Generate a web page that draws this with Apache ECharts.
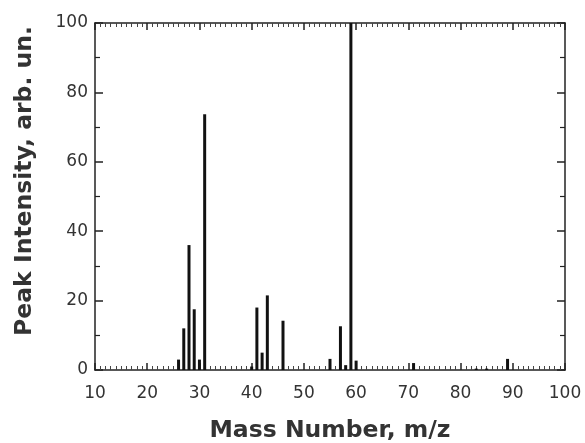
<!DOCTYPE html>
<html>
<head>
<meta charset="utf-8">
<script src="https://cdn.jsdelivr.net/npm/echarts@6/dist/echarts.min.js"></script>
<style>html,body{margin:0;padding:0;background:#fff}#c{width:585px;height:443px}</style>
</head>
<body>
<div id="c"></div>
<script>
const masses = [26, 27, 28, 29, 30, 31, 40, 41, 42, 43, 46, 55, 57, 58, 59, 60, 71, 83, 85, 89];
const intensities = [3, 12, 36, 17.5, 3, 73.7, 1, 18, 5, 21.5, 14.2, 3.2, 12.6, 1.4, 100, 2.7, 2, 0.4, 0.4, 3.2];
const xTitle = 'Mass Number, m/z';
const yTitle = 'Peak Intensity, arb. un.';

const chart = echarts.init(document.getElementById('c'), null, {renderer: 'canvas'});
const axisLineStyle = {color: '#222', width: 1.5};
const labelFont = {fontFamily: 'DejaVu Sans, sans-serif', fontSize: 17, color: '#333'};
const titleFont = {fontFamily: 'DejaVu Sans, sans-serif', fontSize: 23.5, fontWeight: 'bold', color: '#333'};
const majorTick = {show: true, inside: true, length: 8, lineStyle: {color: '#222', width: 1.5}};
const yMinorTick = {show: true, splitNumber: 2, length: 5, lineStyle: {color: '#222', width: 1.2}};
const xMajorTick = {show: true, inside: true, length: 7, lineStyle: {color: '#222', width: 1.5}};
const xMinorTick = {show: true, splitNumber: 10, length: 4, lineStyle: {color: '#444', width: 1}};

const option = {
  animation: false,
  backgroundColor: '#fff',
  grid: {left: 95, right: 20, top: 23, bottom: 73, containLabel: false, outerBoundsMode: 'none'},
  xAxis: [
    {
      type: 'value', min: 10, max: 100, interval: 10, position: 'bottom',
      name: xTitle, nameLocation: 'middle', nameGap: 49, nameTextStyle: titleFont,
      axisLine: {show: true, onZero: false, lineStyle: axisLineStyle},
      axisTick: xMajorTick,
      minorTick: xMinorTick,
      axisLabel: Object.assign({margin: 15}, labelFont),
      splitLine: {show: false}
    },
    {
      type: 'value', min: 10, max: 100, interval: 10, position: 'top',
      axisLine: {show: true, onZero: false, lineStyle: axisLineStyle},
      axisTick: xMajorTick,
      minorTick: xMinorTick,
      axisLabel: {show: false},
      splitLine: {show: false}
    }
  ],
  yAxis: [
    {
      type: 'value', min: 0, max: 100, interval: 20, position: 'left',
      name: yTitle, nameLocation: 'middle', nameGap: 58,
      nameTextStyle: Object.assign({padding: [0, 0, 0, 31]}, titleFont),
      axisLine: {show: true, onZero: false, lineStyle: axisLineStyle},
      axisTick: majorTick,
      minorTick: yMinorTick,
      axisLabel: Object.assign({margin: 7}, labelFont),
      splitLine: {show: false}
    },
    {
      type: 'value', min: 0, max: 100, interval: 20, position: 'right',
      axisLine: {show: true, onZero: false, lineStyle: axisLineStyle},
      axisTick: majorTick,
      minorTick: yMinorTick,
      axisLabel: {show: false},
      splitLine: {show: false}
    }
  ],
  series: [
    {
      type: 'bar', xAxisIndex: 0, yAxisIndex: 0,
      barWidth: 3,
      itemStyle: {color: '#111'},
      data: masses.map((m, i) => [m, intensities[i]])
    }
  ]
};
chart.setOption(option);
</script>
</body>
</html>
